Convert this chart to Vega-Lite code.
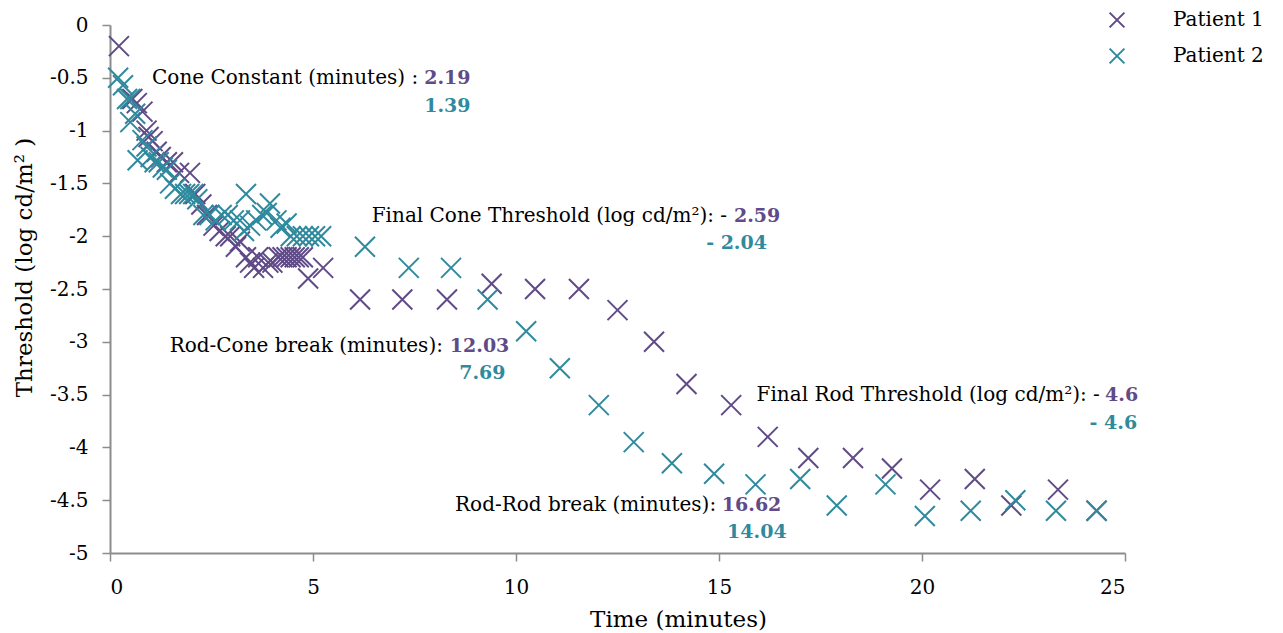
{
  "$schema": "https://vega.github.io/schema/vega-lite/v6.json",
  "width": 1015,
  "height": 528,
  "autosize": {"type": "none"},
  "padding": {"left": 110, "top": 25, "right": 158, "bottom": 80},
  "background": "white",
  "config": {
    "view": {"stroke": null},
    "font": "DejaVu Serif"
  },
  "datasets": {
    "points": [
      {"patient": "Patient 1", "time": 0.22, "threshold": -0.2},
      {"patient": "Patient 1", "time": 0.55, "threshold": -0.7},
      {"patient": "Patient 1", "time": 0.66, "threshold": -0.74},
      {"patient": "Patient 1", "time": 0.8, "threshold": -0.82},
      {"patient": "Patient 1", "time": 0.9, "threshold": -1.0},
      {"patient": "Patient 1", "time": 0.95, "threshold": -1.06},
      {"patient": "Patient 1", "time": 1.05, "threshold": -1.1},
      {"patient": "Patient 1", "time": 1.15, "threshold": -1.2},
      {"patient": "Patient 1", "time": 1.25, "threshold": -1.25},
      {"patient": "Patient 1", "time": 1.4, "threshold": -1.3},
      {"patient": "Patient 1", "time": 1.55, "threshold": -1.3},
      {"patient": "Patient 1", "time": 1.7, "threshold": -1.4},
      {"patient": "Patient 1", "time": 1.97, "threshold": -1.4},
      {"patient": "Patient 1", "time": 2.1, "threshold": -1.6},
      {"patient": "Patient 1", "time": 2.25, "threshold": -1.7},
      {"patient": "Patient 1", "time": 2.39, "threshold": -1.8},
      {"patient": "Patient 1", "time": 2.55, "threshold": -1.9},
      {"patient": "Patient 1", "time": 2.7, "threshold": -1.95},
      {"patient": "Patient 1", "time": 2.85, "threshold": -2.0},
      {"patient": "Patient 1", "time": 2.96, "threshold": -2.0},
      {"patient": "Patient 1", "time": 3.1, "threshold": -2.1},
      {"patient": "Patient 1", "time": 3.2, "threshold": -2.05},
      {"patient": "Patient 1", "time": 3.35, "threshold": -2.2},
      {"patient": "Patient 1", "time": 3.45, "threshold": -2.25},
      {"patient": "Patient 1", "time": 3.55, "threshold": -2.3},
      {"patient": "Patient 1", "time": 3.65, "threshold": -2.2},
      {"patient": "Patient 1", "time": 3.77, "threshold": -2.3},
      {"patient": "Patient 1", "time": 3.9, "threshold": -2.25},
      {"patient": "Patient 1", "time": 4.0, "threshold": -2.25},
      {"patient": "Patient 1", "time": 4.15, "threshold": -2.2},
      {"patient": "Patient 1", "time": 4.25, "threshold": -2.2},
      {"patient": "Patient 1", "time": 4.35, "threshold": -2.2},
      {"patient": "Patient 1", "time": 4.45, "threshold": -2.2},
      {"patient": "Patient 1", "time": 4.55, "threshold": -2.2},
      {"patient": "Patient 1", "time": 4.65, "threshold": -2.2},
      {"patient": "Patient 1", "time": 4.75, "threshold": -2.2},
      {"patient": "Patient 1", "time": 4.88, "threshold": -2.4},
      {"patient": "Patient 1", "time": 5.25, "threshold": -2.3},
      {"patient": "Patient 1", "time": 6.16, "threshold": -2.6},
      {"patient": "Patient 1", "time": 7.2, "threshold": -2.6},
      {"patient": "Patient 1", "time": 8.3, "threshold": -2.6},
      {"patient": "Patient 1", "time": 9.4, "threshold": -2.45},
      {"patient": "Patient 1", "time": 10.47, "threshold": -2.5},
      {"patient": "Patient 1", "time": 11.55, "threshold": -2.5},
      {"patient": "Patient 1", "time": 12.5, "threshold": -2.7},
      {"patient": "Patient 1", "time": 13.4, "threshold": -3.0},
      {"patient": "Patient 1", "time": 14.2, "threshold": -3.4},
      {"patient": "Patient 1", "time": 15.3, "threshold": -3.6},
      {"patient": "Patient 1", "time": 16.2, "threshold": -3.9},
      {"patient": "Patient 1", "time": 17.2, "threshold": -4.1},
      {"patient": "Patient 1", "time": 18.3, "threshold": -4.1},
      {"patient": "Patient 1", "time": 19.26, "threshold": -4.2},
      {"patient": "Patient 1", "time": 20.2, "threshold": -4.4},
      {"patient": "Patient 1", "time": 21.3, "threshold": -4.3},
      {"patient": "Patient 1", "time": 22.2, "threshold": -4.55},
      {"patient": "Patient 1", "time": 23.35, "threshold": -4.4},
      {"patient": "Patient 1", "time": 24.3, "threshold": -4.6},
      {"patient": "Patient 2", "time": 0.2, "threshold": -0.5},
      {"patient": "Patient 2", "time": 0.32, "threshold": -0.57},
      {"patient": "Patient 2", "time": 0.42, "threshold": -0.7},
      {"patient": "Patient 2", "time": 0.5, "threshold": -0.7},
      {"patient": "Patient 2", "time": 0.5, "threshold": -0.92},
      {"patient": "Patient 2", "time": 0.62, "threshold": -0.84},
      {"patient": "Patient 2", "time": 0.68, "threshold": -1.28},
      {"patient": "Patient 2", "time": 0.8, "threshold": -1.09},
      {"patient": "Patient 2", "time": 0.9, "threshold": -1.15},
      {"patient": "Patient 2", "time": 1.0, "threshold": -1.25},
      {"patient": "Patient 2", "time": 1.1, "threshold": -1.3},
      {"patient": "Patient 2", "time": 1.2, "threshold": -1.3},
      {"patient": "Patient 2", "time": 1.3, "threshold": -1.35},
      {"patient": "Patient 2", "time": 1.4, "threshold": -1.37},
      {"patient": "Patient 2", "time": 1.48, "threshold": -1.5},
      {"patient": "Patient 2", "time": 1.6, "threshold": -1.55},
      {"patient": "Patient 2", "time": 1.75, "threshold": -1.6},
      {"patient": "Patient 2", "time": 1.85, "threshold": -1.6},
      {"patient": "Patient 2", "time": 1.95, "threshold": -1.6},
      {"patient": "Patient 2", "time": 2.05, "threshold": -1.6},
      {"patient": "Patient 2", "time": 2.15, "threshold": -1.65},
      {"patient": "Patient 2", "time": 2.3, "threshold": -1.8},
      {"patient": "Patient 2", "time": 2.45, "threshold": -1.8},
      {"patient": "Patient 2", "time": 2.6, "threshold": -1.85},
      {"patient": "Patient 2", "time": 2.75, "threshold": -1.8},
      {"patient": "Patient 2", "time": 2.9, "threshold": -1.8},
      {"patient": "Patient 2", "time": 3.05, "threshold": -1.85},
      {"patient": "Patient 2", "time": 3.2, "threshold": -1.85},
      {"patient": "Patient 2", "time": 3.3, "threshold": -1.95},
      {"patient": "Patient 2", "time": 3.35, "threshold": -1.6},
      {"patient": "Patient 2", "time": 3.45, "threshold": -1.9},
      {"patient": "Patient 2", "time": 3.6, "threshold": -1.85},
      {"patient": "Patient 2", "time": 3.75, "threshold": -1.8},
      {"patient": "Patient 2", "time": 3.86, "threshold": -1.78},
      {"patient": "Patient 2", "time": 3.94, "threshold": -1.69},
      {"patient": "Patient 2", "time": 4.1, "threshold": -1.85},
      {"patient": "Patient 2", "time": 4.2, "threshold": -1.92},
      {"patient": "Patient 2", "time": 4.35, "threshold": -1.88},
      {"patient": "Patient 2", "time": 4.45, "threshold": -2.0},
      {"patient": "Patient 2", "time": 4.6, "threshold": -2.0},
      {"patient": "Patient 2", "time": 4.75, "threshold": -2.0},
      {"patient": "Patient 2", "time": 4.9, "threshold": -2.0},
      {"patient": "Patient 2", "time": 5.05, "threshold": -2.0},
      {"patient": "Patient 2", "time": 5.2, "threshold": -2.0},
      {"patient": "Patient 2", "time": 6.28, "threshold": -2.1},
      {"patient": "Patient 2", "time": 7.36, "threshold": -2.3},
      {"patient": "Patient 2", "time": 8.4, "threshold": -2.3},
      {"patient": "Patient 2", "time": 9.3, "threshold": -2.6},
      {"patient": "Patient 2", "time": 10.25, "threshold": -2.9},
      {"patient": "Patient 2", "time": 11.08, "threshold": -3.25},
      {"patient": "Patient 2", "time": 12.04, "threshold": -3.6},
      {"patient": "Patient 2", "time": 12.9, "threshold": -3.95},
      {"patient": "Patient 2", "time": 13.84, "threshold": -4.15},
      {"patient": "Patient 2", "time": 14.88, "threshold": -4.25},
      {"patient": "Patient 2", "time": 15.9, "threshold": -4.35},
      {"patient": "Patient 2", "time": 17.0, "threshold": -4.3},
      {"patient": "Patient 2", "time": 17.9, "threshold": -4.55},
      {"patient": "Patient 2", "time": 19.1, "threshold": -4.35},
      {"patient": "Patient 2", "time": 20.07, "threshold": -4.65},
      {"patient": "Patient 2", "time": 21.2, "threshold": -4.6},
      {"patient": "Patient 2", "time": 22.3, "threshold": -4.5},
      {"patient": "Patient 2", "time": 23.3, "threshold": -4.6},
      {"patient": "Patient 2", "time": 24.3, "threshold": -4.6}
    ],
    "notes": [
      {"kind": "label", "text": "Cone Constant (minutes) :", "time": 7.59, "threshold": -0.5},
      {"kind": "p1", "text": "2.19", "time": 7.74, "threshold": -0.5},
      {"kind": "p2", "text": "1.39", "time": 7.74, "threshold": -0.77},
      {"kind": "label", "text": "Final Cone Threshold (log cd/m²): -", "time": 15.2, "threshold": -1.81},
      {"kind": "p1", "text": "2.59", "time": 15.37, "threshold": -1.81},
      {"kind": "p2end", "text": "- 2.04", "time": 16.18, "threshold": -2.06},
      {"kind": "label", "text": "Rod-Cone break (minutes):", "time": 8.2, "threshold": -3.04},
      {"kind": "p1", "text": "12.03", "time": 8.37, "threshold": -3.04},
      {"kind": "p2", "text": "7.69", "time": 8.6, "threshold": -3.3},
      {"kind": "label", "text": "Final Rod Threshold (log cd/m²): -", "time": 24.38, "threshold": -3.5},
      {"kind": "p1", "text": "4.6", "time": 24.51, "threshold": -3.5},
      {"kind": "p2end", "text": "- 4.6", "time": 25.3, "threshold": -3.77},
      {"kind": "label", "text": "Rod-Rod break (minutes):", "time": 14.93, "threshold": -4.55},
      {"kind": "p1", "text": "16.62", "time": 15.07, "threshold": -4.55},
      {"kind": "p2", "text": "14.04", "time": 15.2, "threshold": -4.8}
    ]
  },
  "layer": [
    {
      "data": {"name": "points"},
      "mark": {
        "type": "point",
        "shape": "M-1,-1L1,1M-1,1L1,-1",
        "filled": false,
        "size": 400,
        "strokeWidth": 2,
        "opacity": 1
      },
      "encoding": {
        "x": {
          "field": "time",
          "type": "quantitative",
          "scale": {"domain": [0, 25], "nice": false, "zero": false},
          "axis": {
            "values": [0, 5, 10, 15, 20, 25],
            "title": "Time (minutes)",
            "grid": false,
            "domainColor": "#8c8c8c",
            "domainWidth": 2,
            "tickColor": "#8c8c8c",
            "tickWidth": 1.5,
            "tickSize": 8,
            "labelPadding": 16,
            "labelFontSize": 20,
            "labelColor": "#000000",
            "labelFont": "DejaVu Serif",
            "titleFont": "DejaVu Serif",
            "titleFontSize": 23,
            "titleFontWeight": "normal",
            "titleColor": "#000000",
            "titlePadding": 11,
            "titleX": 568,
            "titleAlign": "center"
          }
        },
        "y": {
          "field": "threshold",
          "type": "quantitative",
          "scale": {"domain": [-5, 0], "nice": false, "zero": false},
          "axis": {
            "values": [0, -0.5, -1, -1.5, -2, -2.5, -3, -3.5, -4, -4.5, -5],
            "format": ".1~f",
            "labelExpr": "replace(datum.label, '−', '-')",
            "title": "Threshold (log cd/m² )",
            "grid": false,
            "domainColor": "#8c8c8c",
            "domainWidth": 2,
            "tickColor": "#8c8c8c",
            "tickWidth": 1.5,
            "tickSize": 8,
            "labelPadding": 14,
            "labelFontSize": 20,
            "labelColor": "#000000",
            "labelFont": "DejaVu Serif",
            "titleFont": "DejaVu Serif",
            "titleFontSize": 23,
            "titleFontWeight": "normal",
            "titleColor": "#000000",
            "titlePadding": 13,
            "titleY": 242,
            "titleAlign": "center"
          }
        },
        "stroke": {
          "field": "patient",
          "type": "nominal",
          "scale": {"domain": ["Patient 1", "Patient 2"], "range": ["#604a87", "#2f8a9e"]},
          "legend": {
            "title": null,
            "orient": "none",
            "legendX": 997,
            "legendY": -15,
            "symbolType": "M-1,-1L1,1M-1,1L1,-1",
            "symbolSize": 220,
            "symbolStrokeWidth": 2,
            "symbolFillColor": "transparent",
            "labelFont": "DejaVu Serif",
            "labelFontSize": 20,
            "labelColor": "#000000",
            "labelOffset": 46,
            "rowPadding": 12
          }
        }
      }
    },
    {
      "data": {"name": "notes"},
      "transform": [{"filter": "datum.kind == 'label'"}],
      "mark": {"type": "text", "align": "right", "baseline": "middle", "font": "DejaVu Serif", "fontSize": 20, "color": "#000000"},
      "encoding": {
        "x": {"field": "time", "type": "quantitative"},
        "y": {"field": "threshold", "type": "quantitative"},
        "text": {"field": "text"}
      }
    },
    {
      "data": {"name": "notes"},
      "transform": [{"filter": "datum.kind == 'p1'"}],
      "mark": {"type": "text", "align": "left", "baseline": "middle", "font": "DejaVu Serif", "fontSize": 19, "fontWeight": "bold", "color": "#604a87"},
      "encoding": {
        "x": {"field": "time", "type": "quantitative"},
        "y": {"field": "threshold", "type": "quantitative"},
        "text": {"field": "text"}
      }
    },
    {
      "data": {"name": "notes"},
      "transform": [{"filter": "datum.kind == 'p2'"}],
      "mark": {"type": "text", "align": "left", "baseline": "middle", "font": "DejaVu Serif", "fontSize": 19, "fontWeight": "bold", "color": "#2f8a9e"},
      "encoding": {
        "x": {"field": "time", "type": "quantitative"},
        "y": {"field": "threshold", "type": "quantitative"},
        "text": {"field": "text"}
      }
    },
    {
      "data": {"name": "notes"},
      "transform": [{"filter": "datum.kind == 'p2end'"}],
      "mark": {"type": "text", "align": "right", "baseline": "middle", "font": "DejaVu Serif", "fontSize": 19, "fontWeight": "bold", "color": "#2f8a9e"},
      "encoding": {
        "x": {"field": "time", "type": "quantitative"},
        "y": {"field": "threshold", "type": "quantitative"},
        "text": {"field": "text"}
      }
    }
  ]
}
